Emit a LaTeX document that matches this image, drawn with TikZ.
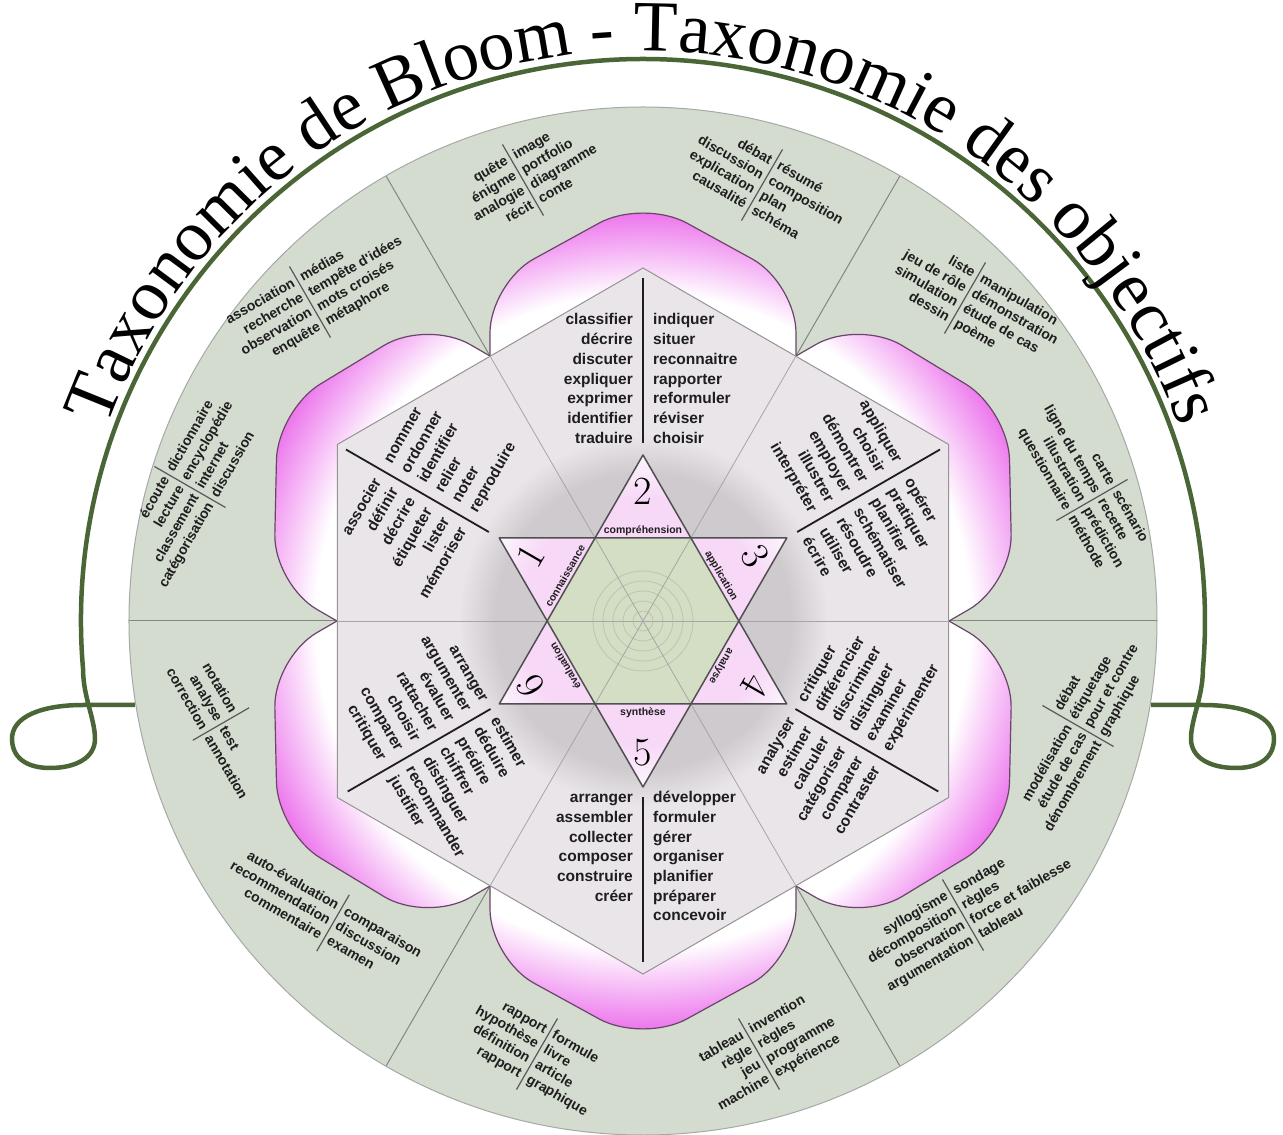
\documentclass[tikz,border=0pt]{standalone}
\usepackage{fontspec}
\newfontfamily\sansf{Liberation Sans}
\newfontfamily\titlefont{Liberation Serif}
\usetikzlibrary{decorations.text}
\definecolor{ringfill}{RGB}{212,219,207}
\definecolor{ringedge}{RGB}{165,170,165}
\definecolor{radline}{RGB}{130,135,130}
\definecolor{petalpink}{RGB}{236,112,236}
\definecolor{petalline}{RGB}{105,70,105}
\definecolor{hexfill}{RGB}{233,229,233}
\definecolor{hexedge}{RGB}{150,146,150}
\definecolor{greyd}{RGB}{206,202,206}
\definecolor{starpink}{RGB}{247,216,247}
\definecolor{starwhite}{RGB}{253,246,253}
\definecolor{stargreen}{RGB}{211,222,196}
\definecolor{ringc}{RGB}{186,199,172}
\definecolor{arcgreen}{RGB}{74,102,54}
\definecolor{verbcol}{RGB}{30,30,30}
\definecolor{starline}{RGB}{80,80,80}
% shadings: the path bounding box maps to the central 50bp square (radius 25bp)
\pgfdeclareradialshading{petalshade}{\pgfpoint{0bp}{0bp}}{color(0bp)=(white); color(19.5bp)=(white); color(24.5bp)=(petalpink); color(50bp)=(petalpink)}
\pgfdeclareradialshading{greydisk}{\pgfpoint{0bp}{0bp}}{color(0bp)=(greyd); color(20bp)=(greyd); color(25bp)=(hexfill); color(50bp)=(hexfill)}
\pgfdeclareradialshading{starshade}{\pgfpoint{0bp}{0bp}}{color(0bp)=(starpink); color(18.5bp)=(starpink); color(25bp)=(starwhite); color(50bp)=(starwhite)}
\newcommand\titlestyle{\titlefont\fontsize{72}{86}\selectfont}
% hexagon section, outer-to-inner stacking
\newcommand\hexsecU[4]{%
  \begin{scope}[rotate=#1]
    \draw[hexdiv] (0,178) -- (0,343);
    \foreach \w [count=\i] in {#3}
      \node[verb,anchor=base east] (#2l\i) at (-10,{296-19.7*(\i-1)}) {\w};
    \foreach \w [count=\i] in {#4}
      \node[verb,anchor=base west] (#2r\i) at (10,{296-19.7*(\i-1)}) {\w};
  \end{scope}}
% hexagon section, inner-to-outer stacking
\newcommand\hexsecL[4]{%
  \begin{scope}[rotate=#1]
    \draw[hexdiv] (0,-176) -- (0,-341);
    \foreach \w [count=\i] in {#3}
      \node[verb,anchor=base east] (#2l\i) at (-10,{-182-19.6*(\i-1)}) {\w};
    \foreach \w [count=\i] in {#4}
      \node[verb,anchor=base west] (#2r\i) at (10,{-182-19.6*(\i-1)}) {\w};
  \end{scope}}
% outer ring group
\newcommand\ogroup[9]{%
  \begin{scope}[shift={(#2-643,621-#3)},rotate=#4]
    \draw[odiv] (0,{#5*8.5+7}) -- (0,{-#5*8.5-7});
    \foreach \w [count=\i] in {#6}
      \node[oword,anchor=base east] (#1l\i) at (-4,{((#5+1)/2-\i-#7)*17-4.5}) {\w};
    \foreach \w [count=\i] in {#8}
      \node[oword,anchor=base west] (#1r\i) at (4,{((#5+1)/2-\i-#9)*17-4.5}) {\w};
  \end{scope}}
\begin{document}
\begin{tikzpicture}[x=1pt,y=1pt,
  verb/.style={font=\sansf\bfseries\fontsize{15.5}{18}\selectfont,inner sep=0pt,text=verbcol,transform shape},
  oword/.style={font=\sansf\bfseries\fontsize{14}{16}\selectfont,inner sep=0pt,text=verbcol,transform shape},
  slabel/.style={font=\sansf\bfseries\fontsize{10.5}{12}\selectfont,inner sep=0pt,text=verbcol},
  numlab/.style={font=\fontsize{40}{44}\selectfont,inner sep=0pt,text=black},
  hexdiv/.style={draw=verbcol,line width=1.8pt},
  odiv/.style={draw=black!65,line width=1.2pt},
  radl/.style={draw=radline,line width=1pt},
  cline/.style={draw=black!35,line width=0.8pt},
  petalstroke/.style={draw=petalline,line width=1.2pt},
  arcline/.style={draw=arcgreen,line width=4.5pt,line join=round}]
\useasboundingbox (-643,-514) rectangle (640,621);
% outer disk
\fill[ringfill] (0,0) circle (514);
\foreach \a in {0,60,...,300} \draw[radl] (0,0) -- (\a:514);
\draw[draw=ringedge,line width=1pt] (0,0) circle (514);
% petals
\foreach \a in {0,60,...,300}{
  \begin{scope}
    \clip[rotate=\a,rounded corners=50pt] (-153,265) -- (-153,338) -- (0,422) -- (153,338) -- (153,265);
    \shade[shading=petalshade] (0,0) circle (420);
  \end{scope}
  \draw[petalstroke,rotate=\a,rounded corners=50pt] (-153,265) -- (-153,338) -- (0,422) -- (153,338) -- (153,265);
}
% hexagon
\fill[hexfill] (90:353) -- (150:353) -- (210:353) -- (270:353) -- (330:353) -- (30:353) -- cycle;
\shade[shading=greydisk] (0,0) circle (185);
\draw[draw=hexedge,line width=1pt] (90:353) -- (150:353) -- (210:353) -- (270:353) -- (330:353) -- (30:353) -- cycle;
% star
\begin{scope}
  \clip (90:166) -- (210:166) -- (330:166) -- cycle (270:166) -- (30:166) -- (150:166) -- cycle;
  \shade[shading=starshade] (0,0) circle (166);
\end{scope}
\fill[stargreen] (0:95.8) -- (60:95.8) -- (120:95.8) -- (180:95.8) -- (240:95.8) -- (300:95.8) -- cycle;
\foreach \r in {10,20,30,40,50} \draw[draw=ringc,line width=0.8pt] (0,0) circle (\r);
\foreach \a in {0,60,120} \draw[cline] (\a:306) -- (\a+180:306);
\draw[draw=starline,line width=1.5pt,line join=round] (90:166) -- (210:166) -- (330:166) -- cycle;
\draw[draw=starline,line width=1.5pt,line join=round] (270:166) -- (30:166) -- (150:166) -- cycle;
% hexagon sections
\hexsecU{0}{top}{classifier,décrire,discuter,expliquer,exprimer,identifier,traduire}{indiquer,situer,reconnaitre,rapporter,reformuler,réviser,choisir}
\hexsecU{-60}{ur}{appliquer,choisir,démontrer,employer,illustrer,interpréter}{opérer,pratiquer,planifier,schématiser,résoudre,utiliser,écrire}
\hexsecU{60}{ul}{associer,définir,décrire,étiqueter,lister,mémoriser}{nommer,ordonner,identifier,relier,noter,reproduire}
\hexsecL{0}{bot}{arranger,assembler,collecter,composer,construire,créer}{développer,formuler,gérer,organiser,planifier,préparer,concevoir}
\hexsecL{60}{lr}{analyser,estimer,calculer,catégoriser,comparer,contraster}{critiquer,différencier,discriminer,distinguer,examiner,expérimenter}
\hexsecL{-60}{ll}{arranger,argumenter,évaluer,rattacher,choisir,comparer,critiquer}{estimer,déduire,prédire,chiffrer,distinguer,recommander,justifier}
% star labels
\node[slabel] (lab2) at (0,90) {compréhension};
\node[slabel] (lab5) at (0,-92) {synthèse};
\node[slabel,rotate=60] (lab1) at (-78,45) {connaissance};
\node[slabel,rotate=-60] (lab3) at (78,45) {application};
\node[slabel,rotate=-120] (lab4) at (78,-45) {analyse};
\node[slabel,rotate=120] (lab6) at (-78,-45) {évaluation};
\node[numlab,rotate=60] (n1) at (150:130) {1};
\node[numlab] (n2) at (90:130) {2};
\node[numlab,rotate=-60] (n3) at (30:130) {3};
\node[numlab,rotate=-120] (n4) at (-30:130) {4};
\node[numlab] (n5) at (270:132) {5};
\node[numlab,rotate=120] (n6) at (210:130) {6};
% outer groups
\ogroup{ga}{190}{487}{60}{4}{écoute,lecture,classement,catégorisation}{0}{dictionnaire,encyclopédie,internet,discussion}{0}
\ogroup{gb}{310}{302}{30}{4}{association,recherche,observation,enquête}{0}{médias,tempête d'idées,mots croisés,métaphore}{0}
\ogroup{gc}{523}{180}{30}{4}{quête,énigme,analogie,récit}{0}{image,portfolio,diagramme,conte}{0}
\ogroup{gd}{762}{185}{-30}{4}{débat,discussion,explication,causalité}{0}{résumé,composition,plan,schéma}{0}
\ogroup{ge}{965}{298}{-30}{4}{liste,jeu de rôle,simulation,dessin}{0}{manipulation,démonstration,étude de cas,poème}{0}
\ogroup{gf}{1092}{500}{-60}{4}{carte,ligne du temps,illustration,questionnaire}{0}{scénario,recette,prédiction,méthode}{0}
\ogroup{gg}{1078}{726}{60}{4}{modélisation,étude de cas,dénombrement}{1}{débat,étiquetage,pour et contre,graphique}{0}
\ogroup{gh}{963}{915}{30}{4}{syllogisme,décomposition,observation,argumentation}{0}{sondage,règles,force et faiblesse,tableau}{0}
\ogroup{gi}{759}{1054}{30}{4}{tableau,règle,jeu,machine}{0}{invention,règles,programme,expérience}{0}
\ogroup{gj}{537}{1054}{-30}{4}{rapport,hypothèse,définition,rapport}{0}{formule,livre,article,graphique}{0}
\ogroup{gk}{333}{923}{-30}{3}{auto-évaluation,recommendation,commentaire}{0}{comparaison,discussion,examen}{0}
\ogroup{gl}{221}{724}{-60}{3}{notation,analyse,correction}{0}{test,annotation}{1}
% title arc with loops
\draw[arcline] (-508,-84) -- (-560,-84) .. controls (-600,-84) and (-632,-95) .. (-631,-119)
  .. controls (-630,-140) and (-612,-147) .. (-593,-147)
  .. controls (-566,-147) and (-548,-136) .. (-548,-118)
  .. controls (-548,-98) and (-560,-75) .. (-559.86,-48.98)
  arc[start angle=185,end angle=-5,radius=562]
  .. controls (560,-75) and (548,-98) .. (548,-118)
  .. controls (548,-136) and (566,-147) .. (593,-147)
  .. controls (612,-147) and (630,-140) .. (631,-119)
  .. controls (632,-95) and (600,-84) .. (560,-84) -- (508,-84);
\path[decorate,decoration={text along path,text={|\titlestyle|Taxonomie de Bloom - Taxonomie des objectifs},text align=center}]
  (180:570) arc[start angle=180,end angle=0,radius=570];
\end{tikzpicture}
\end{document}
